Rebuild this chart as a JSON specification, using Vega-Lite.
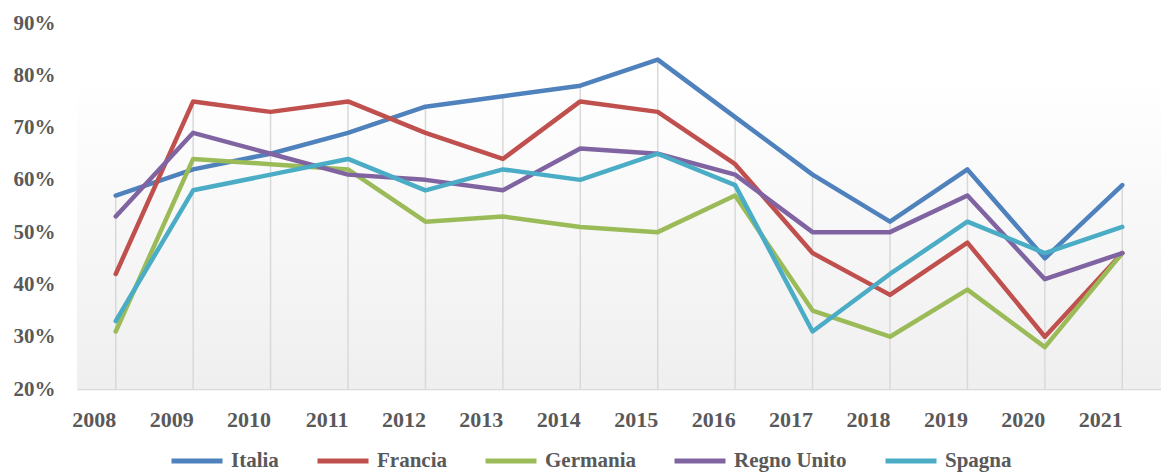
{
  "$schema": "https://vega.github.io/schema/vega-lite/v6.json",
  "width": 1084,
  "height": 366,
  "autosize": "none",
  "padding": {"left": 77, "top": 23, "right": 0, "bottom": 85},
  "background": "#ffffff",
  "config": {
    "view": {"stroke": null},
    "font": "Liberation Serif",
    "axis": {"labelFont": "Liberation Serif", "labelFontWeight": "bold", "labelColor": "#595959", "labelFontSize": 21},
    "legend": {"labelFont": "Liberation Serif", "labelFontWeight": "bold", "labelColor": "#595959", "labelFontSize": 21}
  },
  "datasets": {
    "main": [
      {"year": "2008", "country": "Italia", "value": 0.57},
      {"year": "2009", "country": "Italia", "value": 0.62},
      {"year": "2010", "country": "Italia", "value": 0.65},
      {"year": "2011", "country": "Italia", "value": 0.69},
      {"year": "2012", "country": "Italia", "value": 0.74},
      {"year": "2013", "country": "Italia", "value": 0.76},
      {"year": "2014", "country": "Italia", "value": 0.78},
      {"year": "2015", "country": "Italia", "value": 0.83},
      {"year": "2016", "country": "Italia", "value": 0.72},
      {"year": "2017", "country": "Italia", "value": 0.61},
      {"year": "2018", "country": "Italia", "value": 0.52},
      {"year": "2019", "country": "Italia", "value": 0.62},
      {"year": "2020", "country": "Italia", "value": 0.45},
      {"year": "2021", "country": "Italia", "value": 0.59},
      {"year": "2008", "country": "Francia", "value": 0.42},
      {"year": "2009", "country": "Francia", "value": 0.75},
      {"year": "2010", "country": "Francia", "value": 0.73},
      {"year": "2011", "country": "Francia", "value": 0.75},
      {"year": "2012", "country": "Francia", "value": 0.69},
      {"year": "2013", "country": "Francia", "value": 0.64},
      {"year": "2014", "country": "Francia", "value": 0.75},
      {"year": "2015", "country": "Francia", "value": 0.73},
      {"year": "2016", "country": "Francia", "value": 0.63},
      {"year": "2017", "country": "Francia", "value": 0.46},
      {"year": "2018", "country": "Francia", "value": 0.38},
      {"year": "2019", "country": "Francia", "value": 0.48},
      {"year": "2020", "country": "Francia", "value": 0.30},
      {"year": "2021", "country": "Francia", "value": 0.46},
      {"year": "2008", "country": "Germania", "value": 0.31},
      {"year": "2009", "country": "Germania", "value": 0.64},
      {"year": "2010", "country": "Germania", "value": 0.63},
      {"year": "2011", "country": "Germania", "value": 0.62},
      {"year": "2012", "country": "Germania", "value": 0.52},
      {"year": "2013", "country": "Germania", "value": 0.53},
      {"year": "2014", "country": "Germania", "value": 0.51},
      {"year": "2015", "country": "Germania", "value": 0.50},
      {"year": "2016", "country": "Germania", "value": 0.57},
      {"year": "2017", "country": "Germania", "value": 0.35},
      {"year": "2018", "country": "Germania", "value": 0.30},
      {"year": "2019", "country": "Germania", "value": 0.39},
      {"year": "2020", "country": "Germania", "value": 0.28},
      {"year": "2021", "country": "Germania", "value": 0.46},
      {"year": "2008", "country": "Regno Unito", "value": 0.53},
      {"year": "2009", "country": "Regno Unito", "value": 0.69},
      {"year": "2010", "country": "Regno Unito", "value": 0.65},
      {"year": "2011", "country": "Regno Unito", "value": 0.61},
      {"year": "2012", "country": "Regno Unito", "value": 0.60},
      {"year": "2013", "country": "Regno Unito", "value": 0.58},
      {"year": "2014", "country": "Regno Unito", "value": 0.66},
      {"year": "2015", "country": "Regno Unito", "value": 0.65},
      {"year": "2016", "country": "Regno Unito", "value": 0.61},
      {"year": "2017", "country": "Regno Unito", "value": 0.50},
      {"year": "2018", "country": "Regno Unito", "value": 0.50},
      {"year": "2019", "country": "Regno Unito", "value": 0.57},
      {"year": "2020", "country": "Regno Unito", "value": 0.41},
      {"year": "2021", "country": "Regno Unito", "value": 0.46},
      {"year": "2008", "country": "Spagna", "value": 0.33},
      {"year": "2009", "country": "Spagna", "value": 0.58},
      {"year": "2010", "country": "Spagna", "value": 0.61},
      {"year": "2011", "country": "Spagna", "value": 0.64},
      {"year": "2012", "country": "Spagna", "value": 0.58},
      {"year": "2013", "country": "Spagna", "value": 0.62},
      {"year": "2014", "country": "Spagna", "value": 0.60},
      {"year": "2015", "country": "Spagna", "value": 0.65},
      {"year": "2016", "country": "Spagna", "value": 0.59},
      {"year": "2017", "country": "Spagna", "value": 0.31},
      {"year": "2018", "country": "Spagna", "value": 0.42},
      {"year": "2019", "country": "Spagna", "value": 0.52},
      {"year": "2020", "country": "Spagna", "value": 0.46},
      {"year": "2021", "country": "Spagna", "value": 0.51}
    ]
  },
  "data": {"name": "main"},
  "layer": [
    {
      "data": {"values": [{"lo": 0.2, "hi": 0.9}]},
      "mark": {
        "type": "rect",
        "fill": {
          "gradient": "linear",
          "x1": 0, "y1": 0, "x2": 0, "y2": 1,
          "stops": [
            {"offset": 0, "color": "#ffffff"},
            {"offset": 0.15, "color": "#ffffff"},
            {"offset": 1, "color": "#efefef"}
          ]
        }
      },
      "encoding": {
        "y": {"field": "hi", "type": "quantitative", "scale": {"domain": [0.2, 0.9], "nice": false, "zero": false}},
        "y2": {"field": "lo"}
      }
    },
    {
      "mark": {"type": "rule", "color": "#d9d9d9", "strokeWidth": 1.5},
      "encoding": {
        "x": {"field": "year", "type": "ordinal"},
        "y": {"aggregate": "max", "field": "value", "type": "quantitative"},
        "y2": {"datum": 0.2}
      }
    },
    {
      "mark": {"type": "line", "strokeWidth": 4.5, "strokeJoin": "round", "strokeCap": "round"},
      "encoding": {
        "x": {
          "field": "year", "type": "ordinal",
          "scale": {"type": "point", "padding": 0.5},
          "axis": {"title": null, "labelAngle": 0, "ticks": false, "domainColor": "#d9d9d9", "domainWidth": 1.5, "labelPadding": 30, "grid": false, "labelFontSize": 22}
        },
        "y": {
          "field": "value", "type": "quantitative",
          "scale": {"domain": [0.2, 0.9], "nice": false, "zero": false},
          "axis": {"title": null, "format": ".0%", "values": [0.2, 0.3, 0.4, 0.5, 0.6, 0.7, 0.8, 0.9], "domain": false, "ticks": false, "grid": false, "labelPadding": 22}
        },
        "color": {
          "field": "country", "type": "nominal",
          "scale": {"domain": ["Italia", "Francia", "Germania", "Regno Unito", "Spagna"], "range": ["#4f81bd", "#c0504d", "#9bbb59", "#8064a2", "#4bacc6"]},
          "legend": {
            "title": null, "orient": "none", "direction": "horizontal", "legendX": 92, "legendY": 410,
            "symbolType": "stroke", "symbolSize": 2601, "symbolStrokeWidth": 5, "labelOffset": 6, "columnPadding": 28,
            "encode": {"symbols": {"update": {"stroke": {"scale": "color", "field": "value"}, "strokeWidth": {"value": 5}}}}
          }
        },
        "order": {"field": "year"}
      }
    }
  ]
}
